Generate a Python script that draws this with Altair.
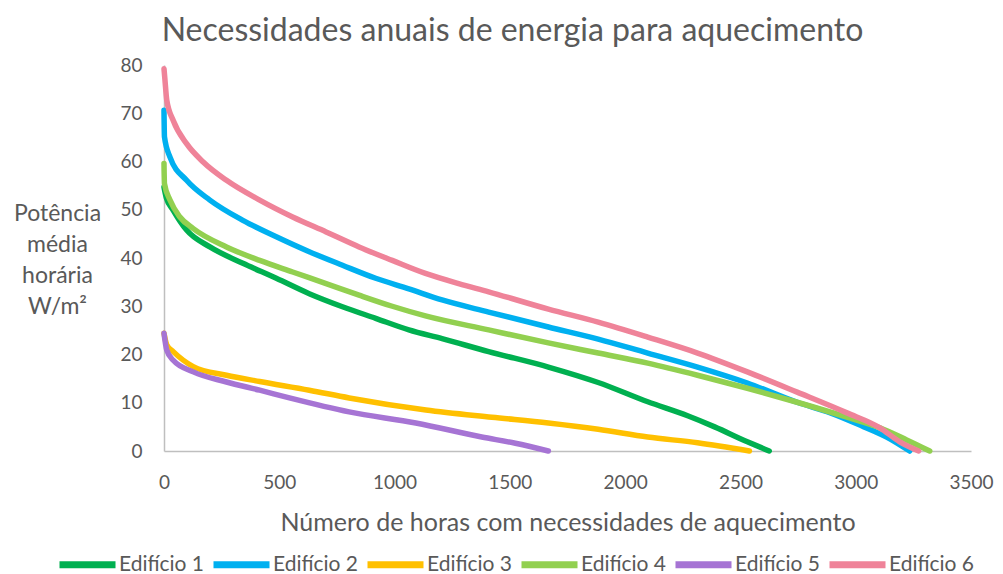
import altair as alt
import pandas as pd

# ---- data ----
names = ["Edifício 1", "Edifício 2", "Edifício 3", "Edifício 4", "Edifício 5", "Edifício 6"]
colors = ["#00B050", "#00B0F0", "#FFC000", "#92D050", "#A674D4", "#EF8399"]

x1 = [0, 10, 40, 98, 199, 342, 487, 630, 774, 918, 1062, 1206, 1408, 1667, 1883, 2098, 2271, 2388, 2530, 2625]
y1 = [54.7, 52.5, 49.9, 45.8, 42.3, 38.9, 35.8, 32.6, 29.9, 27.5, 25.1, 23.3, 20.6, 17.4, 14.2, 10.2, 7.3, 5.0, 1.9, 0]

x2 = [0, 2, 26, 98, 199, 342, 487, 630, 774, 918, 1062, 1206, 1408, 1667, 1883, 2098, 2314, 2530, 2746, 2890, 3036, 3134, 3234]
y2 = [70.6, 65.1, 60.9, 56.1, 52.0, 47.8, 44.4, 41.3, 38.5, 35.8, 33.6, 31.3, 28.8, 25.7, 23.2, 20.3, 17.4, 14.1, 10.1, 7.9, 5.0, 2.9, 0]

x3 = [0, 12, 40, 127, 271, 415, 630, 803, 1136, 1422, 1667, 1883, 2098, 2314, 2539]
y3 = [24.4, 22, 20.6, 17.5, 15.7, 14.4, 12.6, 11.0, 8.5, 7.0, 5.8, 4.5, 2.9, 1.7, 0]

x4 = [0, 2, 26, 69, 127, 271, 415, 558, 703, 846, 990, 1134, 1408, 1667, 1883, 2098, 2314, 2530, 2746, 2962, 3105, 3221, 3321]
y4 = [59.6, 55.4, 52.0, 48.5, 46.1, 42.3, 39.5, 37.1, 34.7, 32.3, 30.0, 28.0, 25.1, 22.4, 20.3, 18.2, 15.7, 13.0, 10.1, 7.0, 4.8, 2.3, 0]

x5 = [0, 12, 40, 127, 271, 415, 544, 803, 1092, 1378, 1524, 1667]
y5 = [24.4, 20.9, 18.8, 16.4, 14.3, 12.6, 11.0, 8.1, 5.8, 2.9, 1.6, 0]

x6 = [0, 4, 12, 40, 98, 170, 271, 415, 558, 703, 846, 990, 1134, 1278, 1408, 1667, 1883, 2098, 2314, 2530, 2746, 2962, 3105, 3191, 3273]
y6 = [79.2, 77, 72.7, 68.5, 63.7, 59.9, 56.1, 52.0, 48.5, 45.4, 42.3, 39.5, 36.8, 34.7, 33.0, 29.4, 26.7, 23.6, 20.3, 16.4, 12.2, 7.9, 4.8, 1.9, 0]

x_ticks = [0, 500, 1000, 1500, 2000, 2500, 3000, 3500]
y_ticks = [0, 10, 20, 30, 40, 50, 60, 70, 80]

series = [(x1, y1), (x2, y2), (x3, y3), (x4, y4), (x5, y5), (x6, y6)]
rows = []
for name, (xs, ys) in zip(names, series):
    for i, (xv, yv) in enumerate(zip(xs, ys)):
        rows.append({"edificio": name, "horas": xv, "potencia": yv, "ordem": i})
df = pd.DataFrame(rows)

FONT = "Lato"
GREY = "#595959"

chart = alt.Chart(df).mark_line(strokeWidth=5.5, interpolate="monotone", strokeCap="round").encode(
    x=alt.X("horas:Q",
            scale=alt.Scale(domain=[0, 3500], nice=False),
            axis=alt.Axis(values=x_ticks, format="d", labelFlush=False,
                          title="Número de horas com necessidades de aquecimento",
                          titleFontSize=25, titleFont=FONT, titleColor=GREY, titleFontWeight="normal",
                          titleBaseline="alphabetic", titleY=79,
                          labelFontSize=19, labelFont=FONT, labelColor=GREY, labelPadding=22,
                          ticks=False, grid=False, domainColor="#BFBFBF", domainWidth=1.5)),
    y=alt.Y("potencia:Q",
            scale=alt.Scale(domain=[0, 80], nice=False),
            axis=alt.Axis(values=y_ticks, title=["Potência", "média", "horária", "W/m²"],
                          titleAngle=0, titleAlign="center", titleBaseline="alphabetic",
                          titleX=-107, titleY=155, titleLineHeight=31,
                          titleFontSize=23, titleFont=FONT, titleColor=GREY, titleFontWeight="normal",
                          labelFontSize=19, labelFont=FONT, labelColor=GREY, labelPadding=22,
                          ticks=False, grid=False, domainColor="#BFBFBF", domainWidth=1.5)),
    color=alt.Color("edificio:N",
                    scale=alt.Scale(domain=names, range=colors),
                    legend=alt.Legend(title=None, orient="none", legendX=-108, legendY=468,
                                      direction="horizontal", columns=6, columnPadding=-6,
                                      symbolType="stroke", symbolSize=3136, symbolStrokeWidth=7,
                                      labelFontSize=21, labelFont=FONT, labelColor=GREY, labelOffset=0,
                                      padding=0)),
    order="ordem:Q",
).properties(
    width=807,
    height=386,
    autosize=alt.AutoSizeParams(type="none"),
    padding={"left": 156, "top": 57, "right": 24, "bottom": 123},
    title=alt.TitleParams("Necessidades anuais de energia para aquecimento",
                          font=FONT, fontSize=32, fontWeight="normal", color=GREY,
                          anchor="middle", frame="group", dx=-55, dy=37, offset=20,
                          baseline="alphabetic"),
).configure_view(stroke=None)

chart.save("out.html", embed_options={"renderer": "svg", "actions": False})
